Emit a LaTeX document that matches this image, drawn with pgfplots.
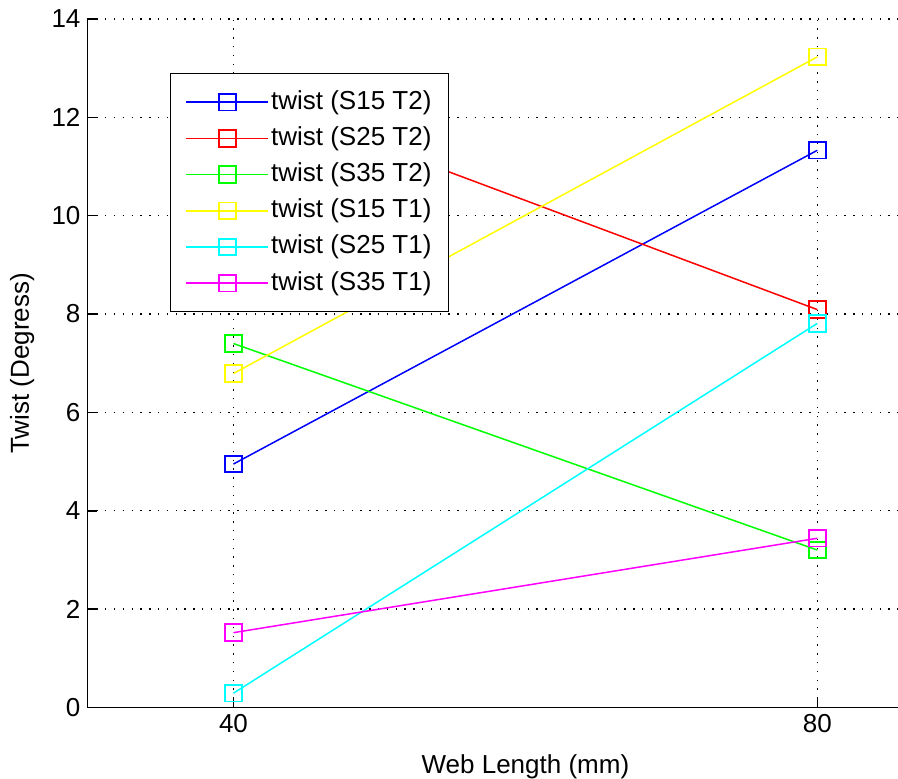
\documentclass[border=0pt]{standalone}
\usepackage{fontspec}
\setmainfont{Liberation Sans}
\usepackage{pgfplots}
\pgfplotsset{compat=1.18}
\begin{document}
\begin{tikzpicture}
\path[use as bounding box, clip] (0,0) rectangle (449pt,389pt);
\begin{axis}[
  at={(43.75pt,35.3pt)}, anchor=south west,
  scale only axis, width=437.9pt, height=344.2pt,
  xmin=30, xmax=90, ymin=0, ymax=14,
  xtick={40,80}, ytick={0,2,4,6,8,10,12,14},
  axis x line*=bottom, axis y line*=left,
  axis line style={black, line width=0.8pt},
  tick align=inside, major tick length=5pt,
  tick style={black, line width=0.8pt},
  grid=major,
  major grid style={black, line width=0.7pt, dash pattern=on 0.7pt off 3.7pt},
  font=\fontsize{13}{15}\selectfont,
  /pgf/number format/assume math mode=true,
  ticklabel style={font=\fontsize{13}{15}\selectfont},
  xlabel={Web Length (mm)}, ylabel={Twist (Degress)},
  xlabel style={at={(axis description cs:0.5,0)}, anchor=center, yshift=-29.8pt},
  ylabel style={at={(axis description cs:-0.0745,0.5)}, anchor=center},
  legend style={at={(rel axis cs:0.0942,0.9216)}, anchor=north west,
    draw=black, line width=0.6pt, fill=white,
    inner xsep=7.5pt, inner ysep=6.8pt, row sep=3.1pt,
    font=\fontsize{13}{15}\selectfont,
    nodes={inner sep=1pt, text height=10pt, text depth=3pt},
    cells={anchor=west}},
  legend cell align=left,
  legend image code/.code={
    \draw[mark repeat=2, mark phase=2] plot coordinates {(0pt,0pt) (20.5pt,0pt) (41pt,0pt)};},
  every axis plot/.append style={line width=0.75pt, mark=square, mark size=4.15pt, mark options={solid, line width=0.9pt}},
]
\addplot[color={rgb,1:red,0;green,0;blue,1}] coordinates {(40,4.95) (80,11.33)};
\addlegendentry{twist (S15 T2)}
\addplot[color={rgb,1:red,1;green,0;blue,0}] coordinates {(40,12.53) (80,8.09)};
\addlegendentry{twist (S25 T2)}
\addplot[color={rgb,1:red,0;green,1;blue,0}] coordinates {(40,7.40) (80,3.20)};
\addlegendentry{twist (S35 T2)}
\addplot[color={rgb,1:red,1;green,1;blue,0}] coordinates {(40,6.79) (80,13.23)};
\addlegendentry{twist (S15 T1)}
\addplot[color={rgb,1:red,0;green,1;blue,1}] coordinates {(40,0.29) (80,7.81)};
\addlegendentry{twist (S25 T1)}
\addplot[color={rgb,1:red,1;green,0;blue,1}] coordinates {(40,1.52) (80,3.44)};
\addlegendentry{twist (S35 T1)}
\end{axis}
\end{tikzpicture}
\end{document}
